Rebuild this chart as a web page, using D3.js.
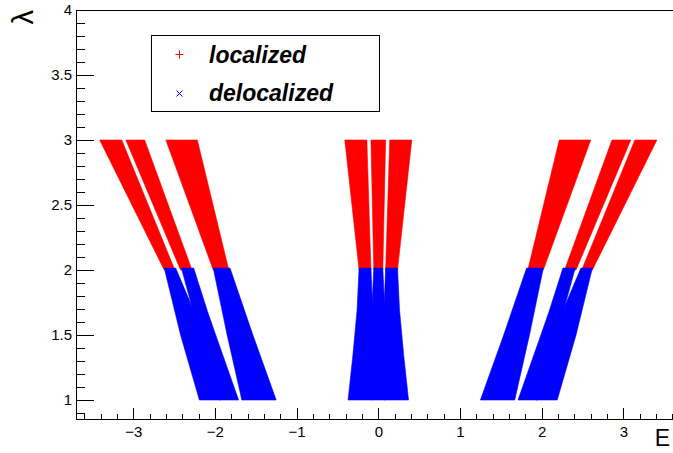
<!DOCTYPE html>
<html>
<head>
<meta charset="utf-8">
<script src="https://cdn.jsdelivr.net/npm/d3@7"></script>
<style>
  body { margin: 0; background: #fff; }
  svg { display: block; font-family: "Liberation Sans", Arial, sans-serif; }
  .axis path, .axis line { stroke: #000; shape-rendering: crispEdges; }
  .axis text { font-size: 15px; fill: #000; }
</style>
</head>
<body>
<div id="chart"></div>
<script>
// axis ranges and labels
var xDomain = [-3.7, 3.7];
var yDomain = [0.85, 4];
var xMajor = [-3, -2, -1, 0, 1, 2, 3];
var yMajor = [1, 1.5, 2, 2.5, 3, 3.5, 4];
var legendLabels = ["localized", "delocalized"];

// band edges, each row is [lambda, E_left, E_right]
// localized states (lambda >= 2)
var locBands = [
  [[2, -2.62, -2.49], [3, -3.41, -3.14]],
  [[2, -2.42, -2.28], [3, -3.09, -2.86]],
  [[2, -2.02, -1.83], [3, -2.60, -2.215]],
  [[2, -0.235, -0.09], [3, -0.41, -0.14]],
  [[2, -0.055, 0.055], [3, -0.09, 0.09]],
  [[2, 0.09, 0.235], [3, 0.14, 0.41]],
  [[2, 1.83, 2.02], [3, 2.215, 2.60]],
  [[2, 2.28, 2.42], [3, 2.86, 3.09]],
  [[2, 2.49, 2.62], [3, 3.14, 3.41]]
];

// delocalized states (lambda <= 2)
var delocBands = [
  [[1, -2.19, -1.93], [1.5, -2.42, -2.17], [1.68, -2.49, -2.255], [2.015, -2.62, -2.48]],
  [[1, -1.945, -1.71], [1.5, -2.18, -1.99], [1.68, -2.265, -2.09], [2.015, -2.41, -2.26]],
  [[1, -1.67, -1.25], [1.5, -1.85, -1.535], [2.015, -2.02, -1.815]],
  [[1, -0.37, -0.07], [1.35, -0.31, -0.07], [1.69, -0.26, -0.07], [2.015, -0.235, -0.09]],
  [[1, -0.08, 0.08], [1.69, -0.08, 0.08], [2.015, -0.055, 0.055]],
  [[1, 0.07, 0.37], [1.35, 0.07, 0.31], [1.69, 0.07, 0.26], [2.015, 0.09, 0.235]],
  [[1, 1.25, 1.67], [1.5, 1.535, 1.85], [2.015, 1.815, 2.02]],
  [[1, 1.71, 1.945], [1.5, 1.99, 2.18], [1.68, 2.09, 2.265], [2.015, 2.26, 2.41]],
  [[1, 1.93, 2.19], [1.5, 2.17, 2.42], [1.68, 2.255, 2.49], [2.015, 2.48, 2.62]]
];

var width = 673, height = 453;
var margin = {left: 76, top: 10, right: 680.6, bottom: 419.5};

var svg = d3.select("#chart").append("svg")
    .attr("width", width)
    .attr("height", height);

var x = d3.scaleLinear().domain(xDomain).range([margin.left, margin.right]);
var y = d3.scaleLinear().domain(yDomain).range([margin.bottom, margin.top]);

var area = d3.area()
    .y(function(d) { return y(d[0]); })
    .x0(function(d) { return x(d[1]); })
    .x1(function(d) { return x(d[2]); });

// red first, blue drawn over the lambda = 2 seam
svg.append("g").selectAll("path")
  .data(locBands)
  .enter().append("path")
  .attr("d", area)
  .attr("fill", "#ff0000")
  .attr("stroke", "#ff0000")
  .attr("stroke-width", 0.6);

svg.append("g").selectAll("path")
  .data(delocBands)
  .enter().append("path")
  .attr("d", area)
  .attr("fill", "#0000ff")
  .attr("stroke", "#0000ff")
  .attr("stroke-width", 0.6);

// minor ticks
var xMinor = d3.range(-36, 37, 2).map(function(v) { return v / 10; });
var yMinor = d3.range(9, 40, 1).map(function(v) { return v / 10; });

svg.append("g")
  .attr("class", "axis")
  .attr("transform", "translate(0," + margin.bottom + ")")
  .call(d3.axisBottom(x).tickValues(xMinor).tickSizeInner(-6).tickSizeOuter(0).tickFormat(""));

svg.append("g")
  .attr("class", "axis")
  .attr("transform", "translate(0," + margin.bottom + ")")
  .call(d3.axisBottom(x).tickValues(xMajor).tickSizeInner(-12).tickSizeOuter(0).tickPadding(7));

svg.append("g")
  .attr("class", "axis")
  .attr("transform", "translate(" + margin.left + ",0)")
  .call(d3.axisLeft(y).tickValues(yMinor).tickSizeInner(-9).tickSizeOuter(0).tickFormat(""));

svg.append("g")
  .attr("class", "axis")
  .attr("transform", "translate(" + margin.left + ",0)")
  .call(d3.axisLeft(y).tickValues(yMajor).tickSizeInner(-18).tickSizeOuter(0).tickPadding(4)
        .tickFormat(d3.format("")));

svg.selectAll(".axis .domain").remove();

// frame
svg.append("rect")
  .attr("x", margin.left)
  .attr("y", margin.top)
  .attr("width", margin.right - margin.left)
  .attr("height", margin.bottom - margin.top)
  .attr("fill", "none")
  .attr("stroke", "#000")
  .style("shape-rendering", "crispEdges");

// axis titles
svg.append("text")
  .attr("x", 670)
  .attr("y", 446)
  .attr("text-anchor", "end")
  .style("font-size", "23px")
  .text("E");

svg.append("text")
  .attr("transform", "translate(33," + margin.top + ") rotate(-90)")
  .attr("text-anchor", "end")
  .style("font-size", "29px")
  .text("λ");

// legend
var legend = svg.append("g");
legend.append("rect")
  .attr("x", 151.5).attr("y", 35.5)
  .attr("width", 228).attr("height", 76)
  .attr("fill", "#fff")
  .attr("stroke", "#000");

var markerColors = ["#ff0000", "#0000ff"];
var markerY = [54.5, 93.5];
legend.append("path")
  .attr("d", "M175.5," + markerY[0] + "h8M179.5," + (markerY[0] - 4) + "v8")
  .attr("stroke", markerColors[0]);
legend.append("path")
  .attr("d", "M176.5," + (markerY[1] - 3) + "l6,6M176.5," + (markerY[1] + 3) + "l6,-6")
  .attr("stroke", markerColors[1]);

legend.selectAll("text.lab")
  .data(legendLabels)
  .enter().append("text")
  .attr("class", "lab")
  .attr("x", 209)
  .attr("y", function(d, i) { return [62.7, 100.7][i]; })
  .style("font-size", "23px")
  .style("font-weight", "bold")
  .style("font-style", "italic")
  .text(function(d) { return d; });
</script>
</body>
</html>
